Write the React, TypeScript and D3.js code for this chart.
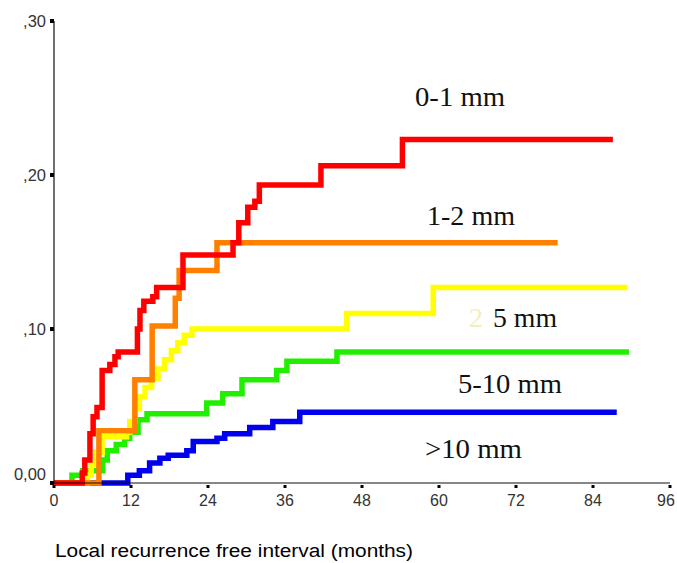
import React from "react";
import * as d3 from "d3";

const xTicks = [0, 12, 24, 36, 48, 60, 72, 84, 96];
const yTicks = [0, 0.1, 0.2, 0.3];
const yTickLabels = ["0,00", ",10", ",20", ",30"];
const xTitle = "Local recurrence free interval (months)";

const red: [number, number][] = [[0,0],[4.4,0.0065],[4.8,0.015],[5.6,0.032],[6.1,0.043],[6.7,0.049],[7.5,0.073],[8.7,0.077],[9.5,0.082],[10.0,0.085],[13.0,0.10],[13.4,0.112],[14.0,0.118],[15.4,0.121],[16.0,0.127],[20.1,0.148],[27.9,0.156],[28.8,0.169],[30.2,0.179],[31.3,0.183],[32.0,0.1935],[41.6,0.206],[54.3,0.223],[87.1,0.223]];
const orange: [number, number][] = [[0,0],[7.0,0.034],[12.6,0.067],[15.3,0.102],[18.9,0.12],[19.5,0.138],[25.4,0.156],[78.5,0.156]];
const yellow: [number, number][] = [[0,0],[5.2,0.005],[5.8,0.012],[6.5,0.02],[7.5,0.03],[11.3,0.033],[11.8,0.04],[12.6,0.048],[13.3,0.056],[14.2,0.062],[15.2,0.068],[16.2,0.074],[17.2,0.08],[18.3,0.086],[19.3,0.091],[20.3,0.096],[21.5,0.10],[45.6,0.11],[59.1,0.127],[89.4,0.127]];
const green: [number, number][] = [[0,0],[2.8,0.005],[4.5,0.008],[7.6,0.015],[8.3,0.021],[9.7,0.025],[11.0,0.029],[11.8,0.033],[13.1,0.041],[14.5,0.045],[23.8,0.052],[26.3,0.058],[29.3,0.067],[34.7,0.073],[36.3,0.079],[44.1,0.085],[89.6,0.085]];
const blue: [number, number][] = [[0,0],[11.5,0.005],[13.3,0.008],[14.9,0.013],[16.5,0.016],[17.8,0.018],[20.7,0.021],[21.7,0.027],[25.4,0.029],[26.6,0.032],[30.5,0.036],[34.1,0.040],[38.3,0.046],[87.7,0.046]];

const seriesNames = ["0-1 mm", "1-2 mm", "2-5 mm", "5-10 mm", ">10 mm"];

export default function App() {
  const x = d3.scaleLinear().domain([0, 96]).range([54, 670]);
  const y = d3.scaleLinear().domain([0, 0.3]).range([483, 21]);
  const line = d3.line<[number, number]>().x(d => x(d[0])).y(d => y(d[1])).curve(d3.curveStepAfter);

  const drawOrder: { data: [number, number][]; color: string }[] = [
    { data: blue, color: "#0000f0" },
    { data: green, color: "#22ee00" },
    { data: yellow, color: "#ffff00" },
    { data: orange, color: "#ff8000" },
    { data: red, color: "#ff0000" },
  ];

  const labelFont = "'Liberation Serif', 'Times New Roman', serif";
  const axisFont = "'Liberation Sans', Arial, sans-serif";

  return (
    <svg width={677} height={563} style={{ position: "absolute", left: 0, top: 0, background: "#fff" }}>
      <rect width={677} height={563} fill="#fff" />
      {drawOrder.map((s, i) => (
        <path key={i} d={line(s.data) || ""} fill="none" stroke={s.color} strokeWidth={5.5} strokeLinejoin="miter" />
      ))}
      <line x1={x(0)} x2={x(0)} y1={y(0.3)} y2={y(0)} stroke="#111" strokeWidth={1.2} />
      <line x1={x(0)} x2={x(96)} y1={y(0)} y2={y(0)} stroke="#111" strokeWidth={1.2} />
      {yTicks.map((t, i) => (
        <g key={"y" + i}>
          <rect x={x(0) - 4} y={y(t) - 2} width={4} height={4} fill="#000" />
          <text x={46} y={y(t) + (t === 0 ? -3 : 6)} textAnchor="end" fontFamily={axisFont} fontSize={16.5} fill="#333">
            {yTickLabels[i]}
          </text>
        </g>
      ))}
      {xTicks.map((t, i) => (
        <g key={"x" + i}>
          <rect x={x(t) - 1.5} y={y(0) + 2} width={3} height={3} fill="#000" />
          <text x={Math.min(x(t), 666)} y={506} textAnchor="middle" fontFamily={axisFont} fontSize={16} fill="#333">
            {t}
          </text>
        </g>
      ))}
      <text x={55} y={557} fontFamily={axisFont} fontSize={18} fill="#000" textLength={358} lengthAdjust="spacingAndGlyphs">
        {xTitle}
      </text>
      <text x={415} y={106} fontFamily={labelFont} fontSize={28} fill="#111" textLength={90} lengthAdjust="spacingAndGlyphs">{seriesNames[0]}</text>
      <text x={427} y={225} fontFamily={labelFont} fontSize={28} fill="#111" textLength={88} lengthAdjust="spacingAndGlyphs">{seriesNames[1]}</text>
      <text x={469} y={327} fontFamily={labelFont} fontSize={28} fill="#f2eec0">{seriesNames[2].slice(0, 1)}</text>
      <text x={493} y={327} fontFamily={labelFont} fontSize={28} fill="#111" textLength={64} lengthAdjust="spacingAndGlyphs">{seriesNames[2].slice(2)}</text>
      <text x={458} y={393} fontFamily={labelFont} fontSize={28} fill="#111" textLength={104} lengthAdjust="spacingAndGlyphs">{seriesNames[3]}</text>
      <text x={425} y={458} fontFamily={labelFont} fontSize={28} fill="#111" textLength={97} lengthAdjust="spacingAndGlyphs">{seriesNames[4]}</text>
    </svg>
  );
}
